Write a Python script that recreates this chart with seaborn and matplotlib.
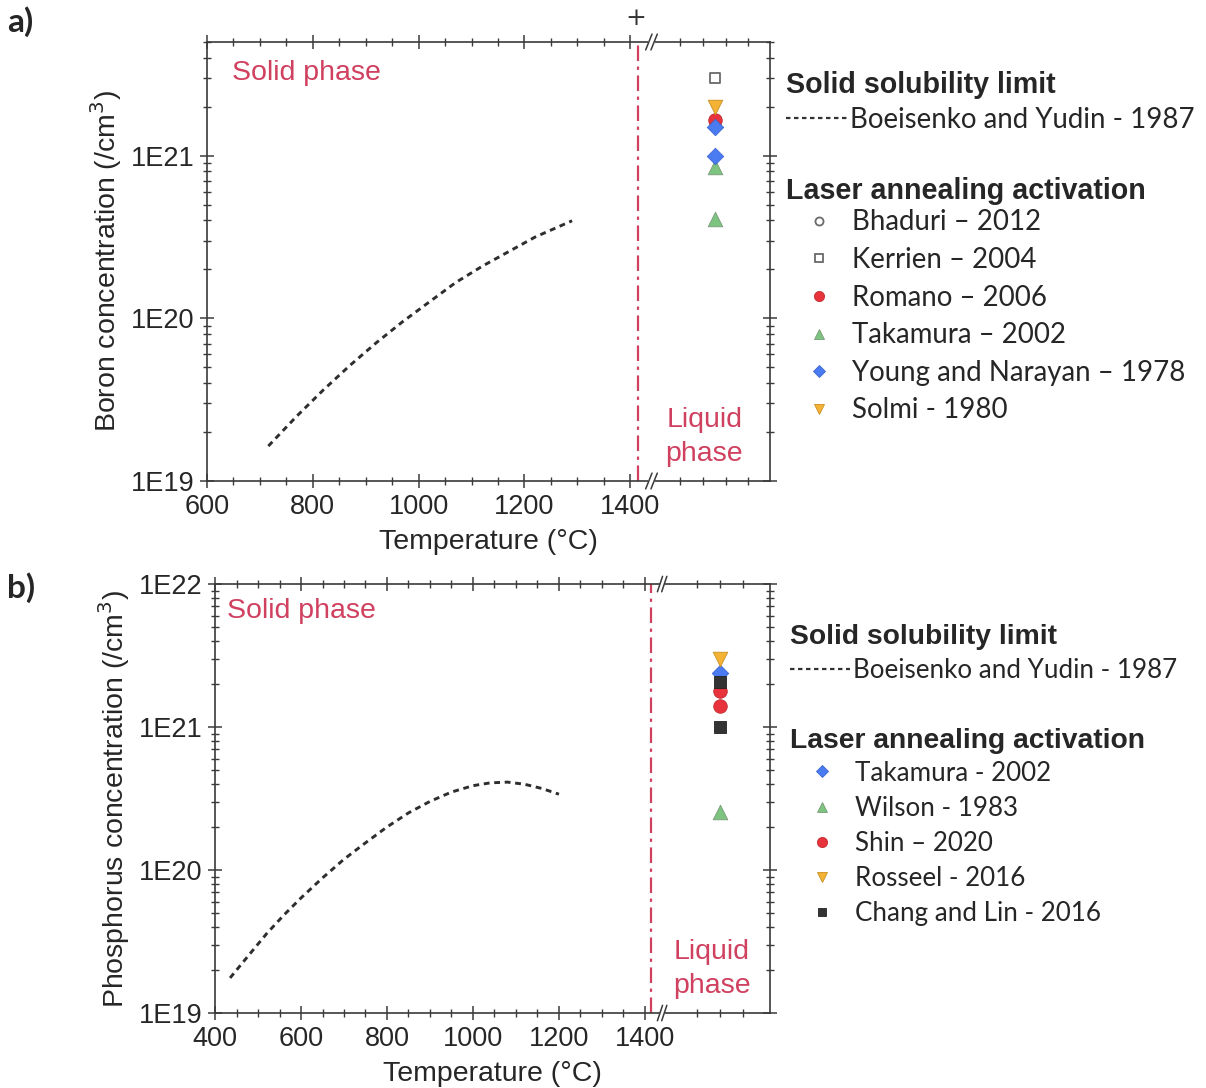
import matplotlib
matplotlib.use("Agg")
import matplotlib.pyplot as plt
import matplotlib.ticker as mticker
from matplotlib.lines import Line2D
import seaborn as sns
import pandas as pd

sns.set_style("ticks")
plt.rcParams['font.family'] = ['Liberation Sans', 'DejaVu Sans']

# ---------------- data: panel a (boron) ----------------
boron_T = [716, 770, 820, 870, 920, 970, 1020, 1070, 1120, 1170, 1220, 1290]
boron_sol = [1.64e19, 2.51e19, 3.63e19, 5.13e19, 7.08e19, 9.55e19, 1.26e20,
             1.66e20, 2.09e20, 2.57e20, 3.16e20, 3.98e20]
boron_laser_T = 1560
boron_series = ["Bhaduri – 2012", "Kerrien – 2004", "Romano – 2006",
                "Takamura – 2002", "Young and Narayan – 1978", "Solmi - 1980"]
boron_values = [[1.62e21], [3.0e21], [1.65e21], [8.5e20, 4.1e20], [1.5e21, 1.0e21], [2.0e21]]

# ---------------- data: panel b (phosphorus) ----------------
phos_T = [435, 480, 520, 560, 600, 650, 700, 750, 800, 850, 900, 950,
          1000, 1040, 1080, 1120, 1160, 1200]
phos_sol = [1.76e19, 2.57e19, 3.59e19, 4.84e19, 6.38e19, 8.81e19, 1.19e20, 1.55e20,
            2.00e20, 2.51e20, 3.02e20, 3.51e20, 3.89e20, 4.07e20, 4.12e20, 3.98e20,
            3.72e20, 3.39e20]
phos_laser_T = 1574
phos_series = ["Takamura - 2002", "Wilson - 1983", "Shin – 2020",
               "Rosseel - 2016", "Chang and Lin - 2016"]
phos_values = [[2.4e21], [2.55e20], [1.8e21, 1.4e21], [3.0e21], [2.05e21, 1.0e21]]

melt_T = 1414
sol_label = "Boeisenko and Yudin - 1987"

RED = "#e8333c"; GREEN = "#7cc47f"; BLUE = "#4a7bf0"; ORANGE = "#f5b335"
GRAY = "#6a6a6a"; BLACK = "#333333"; PHASE = "#d0405f"

boron_styles = [
    dict(marker="o", facecolor="white", edgecolor=GRAY, s=60, lw=1.3),
    dict(marker="s", facecolor="white", edgecolor=GRAY, s=55, lw=1.3),
    dict(marker="o", facecolor=RED, edgecolor="#c02a30", s=95, lw=0.6),
    dict(marker="^", facecolor=GREEN, edgecolor="#7a9a7a", s=110, lw=0.6),
    dict(marker="D", facecolor=BLUE, edgecolor="#3a66d0", s=70, lw=0.6),
    dict(marker="v", facecolor=ORANGE, edgecolor="#c89020", s=110, lw=0.6),
]
phos_styles = [
    dict(marker="D", facecolor=BLUE, edgecolor="#3a66d0", s=70, lw=0.6),
    dict(marker="^", facecolor=GREEN, edgecolor="#7a9a7a", s=110, lw=0.6),
    dict(marker="o", facecolor=RED, edgecolor="#c02a30", s=95, lw=0.6),
    dict(marker="v", facecolor=ORANGE, edgecolor="#c89020", s=110, lw=0.6),
    dict(marker="s", facecolor=BLACK, edgecolor="#222222", s=70, lw=0.6),
]

fig = plt.figure(figsize=(12.06, 10.88), dpi=100)
ax_a = fig.add_axes([0.1716, 0.5579, 0.4669, 0.4035])
ax_b = fig.add_axes([0.1783, 0.0689, 0.4602, 0.3943])

TICK_FS = 19.5
LABEL_FS = 20.5
PHASE_FS = 20.5


def style_axes(ax, xmin, xmax, ymin, ymax, major_x, minor_x, yticks, ylabels, ylabel):
    ax.set_yscale("log")
    ax.set_xlim(xmin, xmax)
    ax.set_ylim(ymin, ymax)
    ax.xaxis.set_major_locator(mticker.FixedLocator(major_x))
    ax.xaxis.set_minor_locator(mticker.FixedLocator(minor_x))
    ax.set_xticklabels([str(v) for v in major_x])
    ax.yaxis.set_major_locator(mticker.FixedLocator(yticks))
    ax.yaxis.set_major_formatter(mticker.FixedFormatter(ylabels))
    ax.yaxis.set_minor_locator(mticker.LogLocator(base=10, subs=range(2, 10)))
    ax.yaxis.set_minor_formatter(mticker.NullFormatter())
    for sp in ax.spines.values():
        sp.set_visible(True)
        sp.set_color("#3a3a3a")
        sp.set_linewidth(1.2)
    ax.tick_params(which="major", direction="inout", length=10, width=1.1,
                   color="#3a3a3a", top=True, right=True, labelsize=TICK_FS)
    ax.tick_params(axis="x", which="major", pad=4)
    ax.tick_params(axis="y", which="major", pad=4)
    ax.tick_params(which="minor", direction="inout", length=6, width=1.0,
                   color="#3a3a3a", top=True, right=True)
    ax.set_xlabel("Temperature (°C)", fontsize=LABEL_FS, labelpad=7)
    ax.set_ylabel(ylabel, fontsize=LABEL_FS, labelpad=5)
    ax.grid(False)


def draw_break(ax, xb):
    tr = ax.get_xaxis_transform()
    for yy in (0.0, 1.0):
        ax.plot([xb - 6, xb + 6], [yy, yy], transform=tr, color="white",
                lw=4, clip_on=False, zorder=5, solid_capstyle="butt")
        for dx in (-5, 5):
            ax.plot([xb + dx - 6, xb + dx + 6], [yy - 0.018, yy + 0.018], transform=tr,
                    color="#3a3a3a", lw=1.1, clip_on=False, zorder=6)


def draw_panel(ax, sol_T, sol_vals, laser_T, names, values, styles):
    sns.lineplot(x=sol_T, y=sol_vals, ax=ax, color="#2e2e2e", lw=2.1,
                 linestyle=(0, (2.0, 1.6)), legend=False)
    ax.axvline(melt_T, color=PHASE, lw=1.6, linestyle=(0, (7, 2.5, 1.5, 2.5)), zorder=1)
    for name, vals, st in zip(names, values, styles):
        df = pd.DataFrame({"T": [laser_T] * len(vals), "c": vals})
        sns.scatterplot(data=df, x="T", y="c", ax=ax, marker=st["marker"],
                        color=st["facecolor"], edgecolor=st["edgecolor"],
                        s=st["s"], linewidth=st["lw"], legend=False, zorder=4)


# ---- panel a ----
draw_panel(ax_a, boron_T, boron_sol, boron_laser_T, boron_series, boron_values, boron_styles)
style_axes(ax_a, 600, 1664, 1e19, 5e21,
           [600, 800, 1000, 1200, 1400],
           [700, 900, 1100, 1300] + [650, 750, 850, 950, 1050, 1150, 1250, 1350] + [1494, 1538, 1581, 1623],
           [1e19, 1e20, 1e21], ["1E19", "1E20", "1E21"],
           "Boron concentration (/cm$^3$)")
draw_break(ax_a, 1440)
ax_a.text(0.045, 0.93, "Solid phase", transform=ax_a.transAxes, color=PHASE,
          fontsize=PHASE_FS, ha="left", va="center")
ax_a.text(0.883, 0.100, "Liquid\nphase", transform=ax_a.transAxes, color=PHASE,
          fontsize=PHASE_FS, ha="center", va="center", linespacing=1.4)

# ---- panel b ----
draw_panel(ax_b, phos_T, phos_sol, phos_laser_T, phos_series, phos_values, phos_styles)
style_axes(ax_b, 400, 1691, 1e19, 1e22,
           [400, 600, 800, 1000, 1200, 1400],
           [500, 700, 900, 1100, 1300] + [450, 550, 650, 750, 850, 950, 1050, 1150, 1250, 1350] + [1521, 1574, 1628],
           [1e19, 1e20, 1e21, 1e22], ["1E19", "1E20", "1E21", "1E22"],
           "Phosphorus concentration (/cm$^3$)")
draw_break(ax_b, 1440)
ax_b.text(0.022, 0.937, "Solid phase", transform=ax_b.transAxes, color=PHASE,
          fontsize=PHASE_FS, ha="left", va="center")
ax_b.text(0.895, 0.103, "Liquid\nphase", transform=ax_b.transAxes, color=PHASE,
          fontsize=PHASE_FS, ha="center", va="center", linespacing=1.4)


# ---- legends ----
def make_legends(ax, names, styles, top1, top2, left, fs, tfs, spacing, hl1, hl2, title_sep):
    line_h = [Line2D([], [], color="#333333", lw=1.6, linestyle=(0, (2.0, 1.6)))]
    leg1 = ax.legend(line_h, [sol_label], loc="upper left", bbox_to_anchor=(left, top1),
                     bbox_transform=fig.transFigure, frameon=False, borderpad=0,
                     borderaxespad=0, handlelength=hl1, handletextpad=0.12,
                     labelspacing=0.3,
                     title="Solid solubility limit", alignment="left",
                     prop={"family": ["Lato", "DejaVu Sans"], "size": fs},
                     title_fontproperties={"family": "Liberation Sans", "weight": "bold", "size": tfs})
    ax.add_artist(leg1)
    hs = []
    for st in styles:
        hs.append(Line2D([], [], linestyle="none", marker=st["marker"],
                         markerfacecolor=st["facecolor"], markeredgecolor=st["edgecolor"],
                         markersize=(st["s"] ** 0.5) * 0.75, markeredgewidth=st["lw"]))
    leg2 = ax.legend(hs, names, loc="upper left", bbox_to_anchor=(left, top2),
                     bbox_transform=fig.transFigure, frameon=False, borderpad=0,
                     borderaxespad=0, handlelength=hl2, handletextpad=0.0,
                     labelspacing=spacing,
                     title="Laser annealing activation", alignment="left",
                     prop={"family": ["Lato", "DejaVu Sans"], "size": fs},
                     title_fontproperties={"family": "Liberation Sans", "weight": "bold", "size": tfs})
    leg2._legend_box.sep = title_sep
    return leg2


make_legends(ax_a, boron_series, boron_styles, 0.935, 0.837, 0.652, 19.9, 20.6, 0.42, 2.2, 2.37, 2.9)
make_legends(ax_b, phos_series, phos_styles, 0.4265, 0.331, 0.655, 18.75, 20.3, 0.39, 2.3, 2.5, 4.8)

fig.text(0.006, 0.980, "a)", fontsize=24, fontweight="bold", family=["Lato", "DejaVu Sans"],
         ha="left", va="center")
fig.text(0.006, 0.460, "b)", fontsize=24, fontweight="bold", family=["Lato", "DejaVu Sans"],
         ha="left", va="center")
fig.text(0.527, 0.983, "+", fontsize=18, ha="center", va="center", color="#333333",
         family=["DejaVu Serif", "DejaVu Sans"])

fig.savefig("out.png", dpi=100)
